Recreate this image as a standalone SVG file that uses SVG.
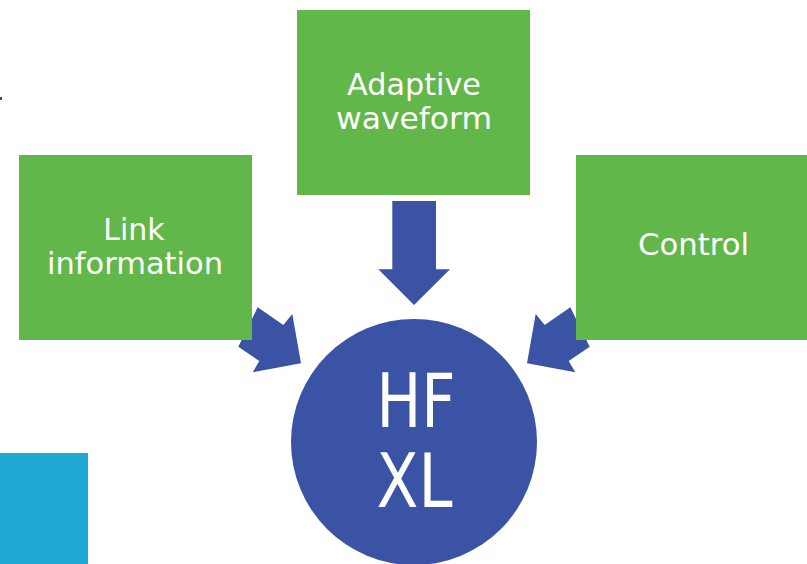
<svg xmlns="http://www.w3.org/2000/svg" width="807" height="564" viewBox="0 0 807 564">
<style>
.box{fill:#62b74a;}
.arrow{fill:#3a53a4;}
.t{font-family:"DejaVu Sans","Liberation Sans",sans-serif;fill:#ffffff;text-anchor:middle;font-size:30px;}
.big{font-family:"DejaVu Sans","Liberation Sans",sans-serif;fill:#ffffff;text-anchor:middle;font-size:75px;}
</style>
<rect x="0" y="0" width="807" height="564" fill="#ffffff"/>
<rect x="0" y="97" width="2" height="3" fill="#3a4a5c"/>
<rect x="0" y="453" width="88" height="111" fill="#1fa9d4"/>
<g id="connectors">
<polygon class="arrow" points="392.3,201 436,201 436,269.3 450,269.3 414,305 378.3,269.3 392.3,269.3"/>
<polygon class="arrow" points="257.7,307.3 283.3,325 292.3,314 301,363.3 252.7,372.3 259.3,361 238.3,346.7"/>
<polygon class="arrow" points="570.3,307.3 544.7,325 535.7,314 527,363.3 575.3,372.3 568.7,361 589.7,346.7"/>
</g>
<g id="node-adaptive">
<rect class="box" x="297" y="10" width="233" height="185"/>
<text class="t" x="414" y="95" textLength="134" lengthAdjust="spacingAndGlyphs">Adaptive</text>
<text class="t" x="414" y="129" textLength="156" lengthAdjust="spacingAndGlyphs">waveform</text>
</g>
<g id="node-link">
<rect class="box" x="19" y="155" width="233" height="185"/>
<text class="t" x="134" y="240">Link</text>
<text class="t" x="135" y="274" textLength="176" lengthAdjust="spacingAndGlyphs">information</text>
</g>
<g id="node-control">
<rect class="box" x="576" y="155" width="231" height="185"/>
<text class="t" x="693.5" y="255" textLength="111" lengthAdjust="spacingAndGlyphs">Control</text>
</g>
<g id="node-hfxl">
<circle cx="414" cy="442" r="123" fill="#3a53a4"/>
<text class="big" x="416" y="427" textLength="79" lengthAdjust="spacingAndGlyphs">HF</text>
<text class="big" x="414.5" y="507" textLength="76" lengthAdjust="spacingAndGlyphs">XL</text>
</g>
</svg>
